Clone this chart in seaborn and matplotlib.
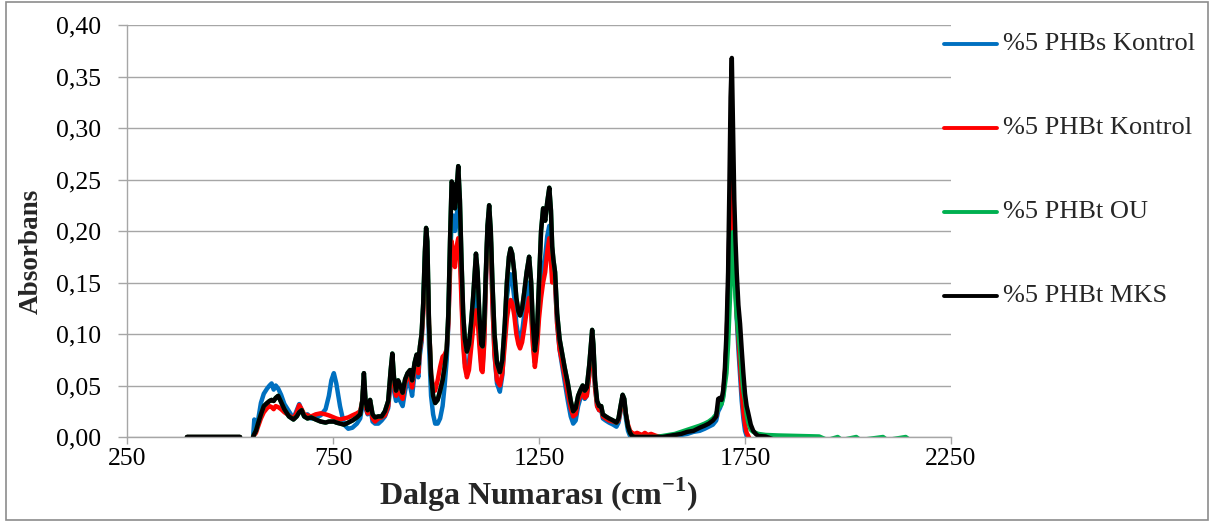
import numpy as np
import pandas as pd
import matplotlib
matplotlib.use("Agg")
import matplotlib.pyplot as plt
import seaborn as sns
from matplotlib.lines import Line2D
from matplotlib.patches import Rectangle

# FTIR absorbance spectra (wavenumber in cm-1)
wavenumber = [
    395, 524, 556, 559, 563, 568, 575, 582, 590, 596,
    601, 606, 611, 617, 624, 632, 643, 654, 662, 668,
    674, 680, 688, 697, 708, 720, 732, 740, 746, 752,
    758, 767, 777, 787, 797, 808, 816, 821, 825, 829,
    834, 840, 846, 852, 860, 868, 876, 884, 890, 894,
    898, 903, 908, 913, 919, 925, 931, 937, 942, 948,
    953, 957, 961, 965, 969, 973, 976, 979, 983, 988,
    993, 998, 1004, 1010, 1016, 1021, 1026, 1030, 1034, 1038,
    1042, 1046, 1050, 1054, 1058, 1062, 1066, 1070, 1075, 1080,
    1085, 1090, 1094, 1097, 1101, 1105, 1110, 1113, 1117, 1121,
    1125, 1129, 1133, 1137, 1142, 1148, 1155, 1161, 1167, 1172,
    1177, 1181, 1185, 1190, 1195, 1200, 1204, 1209, 1214, 1220,
    1226, 1231, 1235, 1240, 1245, 1250, 1255, 1260, 1265, 1270,
    1275, 1279, 1282, 1285, 1289, 1294, 1300, 1305, 1312, 1320,
    1327, 1333, 1339, 1345, 1350, 1356, 1361, 1366, 1372, 1376,
    1379, 1382, 1386, 1391, 1396, 1401, 1405, 1412, 1420, 1430,
    1438, 1443, 1448, 1453, 1457, 1461, 1466, 1471, 1476, 1482,
    1488, 1494, 1500, 1507, 1514, 1522, 1535, 1550, 1565, 1580,
    1595, 1610, 1625, 1640, 1652, 1662, 1672, 1680, 1685, 1689,
    1693, 1697, 1701, 1705, 1709, 1712, 1715, 1718, 1721, 1724,
    1727, 1730, 1734, 1738, 1742, 1746, 1750, 1754, 1758, 1764,
    1770, 1776, 1782, 1800, 1830, 1880, 1930, 1950, 1975, 1985,
    2020, 2030, 2085, 2095, 2140, 2150, 2200,
]

phbs_kontrol = [
    0, 0, 0.000, 0.017, 0.008, 0.016, 0.033, 0.042, 0.047, 0.050,
    0.052, 0.046, 0.050, 0.047, 0.041, 0.032, 0.025, 0.018, 0.026, 0.032,
    0.026, 0.020, 0.022, 0.018, 0.019, 0.021, 0.027, 0.040, 0.055, 0.062,
    0.052, 0.030, 0.012, 0.008, 0.009, 0.013, 0.018, 0.030, 0.050, 0.028,
    0.022, 0.030, 0.015, 0.013, 0.013, 0.016, 0.020, 0.028, 0.055, 0.070,
    0.045, 0.035, 0.042, 0.035, 0.030, 0.045, 0.055, 0.050, 0.040, 0.062,
    0.068, 0.058, 0.080, 0.092, 0.125, 0.170, 0.195, 0.175, 0.090, 0.040,
    0.022, 0.013, 0.013, 0.018, 0.030, 0.050, 0.075, 0.110, 0.170, 0.210,
    0.215, 0.200, 0.215, 0.227, 0.200, 0.140, 0.095, 0.072, 0.063, 0.072,
    0.095, 0.120, 0.135, 0.140, 0.130, 0.100, 0.070, 0.068, 0.095, 0.150,
    0.200, 0.218, 0.190, 0.130, 0.080, 0.052, 0.044, 0.060, 0.100, 0.135,
    0.152, 0.158, 0.152, 0.135, 0.110, 0.098, 0.095, 0.102, 0.118, 0.138,
    0.150, 0.130, 0.095, 0.072, 0.090, 0.130, 0.160, 0.165, 0.175, 0.195,
    0.205, 0.190, 0.165, 0.165, 0.150, 0.110, 0.085, 0.072, 0.055, 0.035,
    0.020, 0.013, 0.016, 0.030, 0.037, 0.042, 0.037, 0.040, 0.060, 0.082,
    0.098, 0.082, 0.050, 0.030, 0.026, 0.026, 0.018, 0.016, 0.014, 0.012,
    0.010, 0.014, 0.025, 0.038, 0.033, 0.018, 0.006, 0.001, 0.000, 0.000,
    0.000, 0.000, 0.000, 0.000, 0.000, 0.000, 0.000, 0.000, 0.000, 0.001,
    0.002, 0.003, 0.005, 0.006, 0.008, 0.010, 0.012, 0.016, 0.025, 0.028,
    0.032, 0.040, 0.058, 0.088, 0.140, 0.200, 0.240, 0.255, 0.230, 0.185,
    0.150, 0.115, 0.085, 0.060, 0.035, 0.018, 0.006, 0.001, -0.004, -0.004,
    -0.004, -0.004, -0.004, -0.004, -0.004, -0.004, -0.004, -0.004, -0.004, -0.004,
    -0.004, -0.004, -0.004, -0.004, -0.004, -0.004, -0.004,
]

phbt_kontrol = [
    0, 0, 0.000, 0.002, 0.004, 0.010, 0.018, 0.024, 0.028, 0.030,
    0.029, 0.027, 0.030, 0.029, 0.027, 0.024, 0.021, 0.018, 0.024, 0.031,
    0.027, 0.022, 0.021, 0.020, 0.022, 0.023, 0.022, 0.021, 0.020, 0.019,
    0.018, 0.017, 0.018, 0.019, 0.021, 0.023, 0.025, 0.035, 0.055, 0.030,
    0.023, 0.032, 0.018, 0.015, 0.018, 0.019, 0.021, 0.030, 0.058, 0.072,
    0.050, 0.040, 0.048, 0.042, 0.037, 0.052, 0.058, 0.060, 0.048, 0.068,
    0.070, 0.062, 0.085, 0.095, 0.120, 0.160, 0.185, 0.170, 0.110, 0.062,
    0.048, 0.045, 0.055, 0.068, 0.078, 0.080, 0.085, 0.110, 0.160, 0.190,
    0.175, 0.165, 0.185, 0.193, 0.175, 0.130, 0.090, 0.068, 0.058, 0.065,
    0.085, 0.105, 0.118, 0.123, 0.115, 0.090, 0.065, 0.063, 0.090, 0.150,
    0.200, 0.218, 0.190, 0.130, 0.080, 0.055, 0.050, 0.062, 0.090, 0.115,
    0.128, 0.133, 0.130, 0.118, 0.100, 0.090, 0.086, 0.092, 0.105, 0.122,
    0.135, 0.120, 0.090, 0.068, 0.085, 0.115, 0.135, 0.150, 0.160, 0.180,
    0.193, 0.170, 0.150, 0.165, 0.150, 0.110, 0.085, 0.075, 0.060, 0.042,
    0.028, 0.020, 0.022, 0.035, 0.040, 0.044, 0.038, 0.040, 0.060, 0.080,
    0.095, 0.080, 0.048, 0.030, 0.026, 0.027, 0.020, 0.018, 0.016, 0.015,
    0.014, 0.016, 0.026, 0.036, 0.033, 0.022, 0.012, 0.006, 0.004, 0.003,
    0.004, 0.003, 0.002, 0.004, 0.002, 0.003, 0.001, 0.000, 0.001, 0.002,
    0.004, 0.006, 0.008, 0.010, 0.012, 0.014, 0.017, 0.020, 0.030, 0.032,
    0.035, 0.042, 0.060, 0.090, 0.140, 0.200, 0.245, 0.262, 0.230, 0.180,
    0.150, 0.120, 0.095, 0.070, 0.045, 0.025, 0.012, 0.004, 0.001, -0.004,
    -0.004, -0.004, -0.004, -0.004, -0.004, -0.004, -0.004, -0.004, -0.004, -0.004,
    -0.004, -0.004, -0.004, -0.004, -0.004, -0.004, -0.004,
]

phbt_ou = [
    0, 0, 0.000, 0.003, 0.006, 0.013, 0.022, 0.030, 0.033, 0.035,
    0.036, 0.035, 0.038, 0.040, 0.034, 0.027, 0.020, 0.017, 0.020, 0.024,
    0.026, 0.020, 0.018, 0.019, 0.017, 0.015, 0.014, 0.015, 0.015, 0.015,
    0.014, 0.013, 0.012, 0.014, 0.016, 0.019, 0.022, 0.035, 0.062, 0.035,
    0.026, 0.036, 0.022, 0.019, 0.020, 0.020, 0.025, 0.035, 0.065, 0.081,
    0.058, 0.045, 0.055, 0.050, 0.043, 0.056, 0.062, 0.065, 0.055, 0.072,
    0.080, 0.070, 0.088, 0.100, 0.130, 0.180, 0.203, 0.190, 0.110, 0.060,
    0.040, 0.033, 0.036, 0.045, 0.055, 0.068, 0.085, 0.120, 0.190, 0.248,
    0.245, 0.222, 0.240, 0.263, 0.230, 0.170, 0.120, 0.095, 0.083, 0.090,
    0.110, 0.135, 0.160, 0.178, 0.160, 0.120, 0.090, 0.088, 0.110, 0.160,
    0.205, 0.225, 0.200, 0.150, 0.100, 0.072, 0.063, 0.075, 0.110, 0.150,
    0.175, 0.183, 0.178, 0.160, 0.135, 0.122, 0.118, 0.125, 0.140, 0.160,
    0.175, 0.150, 0.110, 0.084, 0.100, 0.150, 0.200, 0.222, 0.210, 0.228,
    0.242, 0.220, 0.185, 0.172, 0.160, 0.120, 0.095, 0.084, 0.068, 0.052,
    0.035, 0.025, 0.028, 0.040, 0.045, 0.050, 0.045, 0.048, 0.070, 0.090,
    0.104, 0.090, 0.055, 0.035, 0.030, 0.030, 0.022, 0.020, 0.018, 0.016,
    0.014, 0.018, 0.030, 0.041, 0.037, 0.022, 0.010, 0.004, 0.001, 0.000,
    0.000, 0.000, 0.000, 0.000, 0.000, 0.000, 0.000, 0.001, 0.002, 0.003,
    0.005, 0.007, 0.009, 0.011, 0.013, 0.015, 0.018, 0.022, 0.028, 0.030,
    0.032, 0.038, 0.050, 0.062, 0.090, 0.120, 0.150, 0.190, 0.199, 0.160,
    0.135, 0.117, 0.100, 0.085, 0.062, 0.045, 0.036, 0.022, 0.014, 0.007,
    0.005, 0.004, 0.003, 0.002, 0.0015, 0.001, 0.0005, -0.003, 0.000, -0.003,
    0.000, -0.003, 0.000, -0.003, 0.000, -0.003, -0.004,
]

phbt_mks = [
    0, 0, 0.000, 0.003, 0.006, 0.013, 0.022, 0.030, 0.033, 0.035,
    0.036, 0.035, 0.038, 0.040, 0.034, 0.027, 0.020, 0.017, 0.020, 0.024,
    0.026, 0.020, 0.018, 0.019, 0.017, 0.015, 0.014, 0.015, 0.015, 0.015,
    0.014, 0.013, 0.012, 0.014, 0.016, 0.019, 0.022, 0.035, 0.062, 0.035,
    0.026, 0.036, 0.022, 0.019, 0.020, 0.020, 0.025, 0.035, 0.065, 0.081,
    0.058, 0.045, 0.055, 0.050, 0.043, 0.056, 0.062, 0.065, 0.055, 0.072,
    0.080, 0.070, 0.088, 0.100, 0.130, 0.180, 0.203, 0.190, 0.110, 0.060,
    0.040, 0.033, 0.036, 0.045, 0.055, 0.068, 0.085, 0.120, 0.190, 0.248,
    0.245, 0.222, 0.240, 0.263, 0.230, 0.170, 0.120, 0.095, 0.083, 0.090,
    0.110, 0.135, 0.160, 0.178, 0.160, 0.120, 0.090, 0.088, 0.110, 0.160,
    0.205, 0.225, 0.200, 0.150, 0.100, 0.072, 0.063, 0.075, 0.110, 0.150,
    0.175, 0.183, 0.178, 0.160, 0.135, 0.122, 0.118, 0.125, 0.140, 0.160,
    0.175, 0.150, 0.110, 0.084, 0.100, 0.150, 0.200, 0.222, 0.210, 0.228,
    0.242, 0.220, 0.185, 0.172, 0.160, 0.120, 0.095, 0.084, 0.068, 0.052,
    0.035, 0.025, 0.028, 0.040, 0.045, 0.050, 0.045, 0.048, 0.070, 0.090,
    0.104, 0.090, 0.055, 0.035, 0.030, 0.030, 0.022, 0.020, 0.018, 0.016,
    0.014, 0.018, 0.030, 0.041, 0.037, 0.022, 0.010, 0.004, 0.001, 0.000,
    0.000, 0.000, 0.000, 0.000, 0.000, 0.000, 0.000, 0.000, 0.001, 0.002,
    0.003, 0.005, 0.006, 0.009, 0.011, 0.013, 0.016, 0.020, 0.037, 0.038,
    0.036, 0.045, 0.065, 0.100, 0.160, 0.240, 0.330, 0.368, 0.300, 0.230,
    0.190, 0.159, 0.128, 0.110, 0.085, 0.062, 0.042, 0.030, 0.023, 0.012,
    0.006, 0.003, 0.001, 0.0005, -0.004, -0.004, -0.004, -0.004, -0.004, -0.004,
    -0.004, -0.004, -0.004, -0.004, -0.004, -0.004, -0.004,
]

series_names = ["%5 PHBs Kontrol", "%5 PHBt Kontrol", "%5 PHBt OU", "%5 PHBt MKS"]
series_colors = ["#0070C0", "#FF0000", "#00B050", "#000000"]
x_ticks = [250, 750, 1250, 1750, 2250]
y_ticks = [0.00, 0.05, 0.10, 0.15, 0.20, 0.25, 0.30, 0.35, 0.40]

# the detector leaves a gap between the flat baseline block and the spectrum
gap_start = 540

frames = []
for name, values in zip(series_names, [phbs_kontrol, phbt_kontrol, phbt_ou, phbt_mks]):
    assert len(values) == len(wavenumber)
    df = pd.DataFrame({"wn": wavenumber, "absorbance": values})
    df["series"] = name
    df["segment"] = np.where(df["wn"] < gap_start, 0, 1)
    frames.append(df)
data = pd.concat(frames, ignore_index=True)

sns.set_theme(style="white")
plt.rcParams["font.family"] = ["Liberation Serif", "DejaVu Serif"]
plt.rcParams["mathtext.fontset"] = "custom"
plt.rcParams["mathtext.rm"] = "Liberation Serif"
plt.rcParams["mathtext.bf"] = "Liberation Serif:bold"

W, H = 1209, 521
fig = plt.figure(figsize=(W / 100, H / 100), dpi=100)
fig.patch.set_facecolor("white")
ax = fig.add_axes([127 / W, 1 - 437 / H, 824 / W, 412 / H])

palette = dict(zip(series_names, series_colors))
sns.lineplot(
    data=data, x="wn", y="absorbance", hue="series", hue_order=series_names,
    units="segment", estimator=None, palette=palette, linewidth=3.2,
    legend=False, ax=ax,
)
for line in ax.lines:
    line.set_solid_joinstyle("round")
    line.set_solid_capstyle("round")

ax.set_xlim(250, 2250)
ax.set_ylim(0, 0.40)
ax.set_xticks(x_ticks)
ax.set_xticklabels([str(t) for t in x_ticks])
ax.set_yticks(y_ticks)
ax.set_yticklabels([f"{t:.2f}".replace(".", ",") for t in y_ticks])
ax.set_xlabel("")
ax.set_ylabel("")

grid_color = "#a6a6a6"
ax.set_axisbelow(True)
ax.yaxis.grid(True, color=grid_color, linewidth=1.0)
ax.xaxis.grid(False)
for side in ["top", "right"]:
    ax.spines[side].set_visible(False)
for side in ["left", "bottom"]:
    ax.spines[side].set_color(grid_color)
    ax.spines[side].set_linewidth(1.0)
ax.tick_params(axis="y", which="major", direction="out", length=6.5, width=1.0,
               color=grid_color, pad=12, labelsize=18.5, labelcolor="black", left=True)
ax.tick_params(axis="x", which="major", direction="out", length=5, width=1.0,
               color=grid_color, pad=3, labelsize=18.5, labelcolor="black", bottom=True)
ax.set_facecolor("white")

fig.text(31 / W, 1 - 251 / H, "Absorbans", rotation=90, ha="center", va="center",
         fontsize=19.5, fontweight="bold")
fig.text(539 / W, 1 - 495 / H, r"Dalga Numarası (cm$^{\mathbf{-1}}$)",
         ha="center", va="center", fontsize=23, fontweight="bold")

# legend on the right
legend_rows = [44, 128, 212, 296]
for name, color, ypix in zip(series_names, series_colors, legend_rows):
    yf = 1 - ypix / H
    fig.add_artist(Line2D([944 / W, 997 / W], [yf, yf], color=color, linewidth=2.8,
                          transform=fig.transFigure))
    fig.text(1003 / W, yf, name, ha="left", va="center", fontsize=19)

# outer chart frame
fig.add_artist(Rectangle((6 / W, 1.5 / H), (1207.5 - 6) / W, (519 - 1.5) / H,
                         transform=fig.transFigure, fill=False,
                         edgecolor="#8c8c8c", linewidth=1.2))

fig.savefig("out.png", dpi=100, facecolor="white")
